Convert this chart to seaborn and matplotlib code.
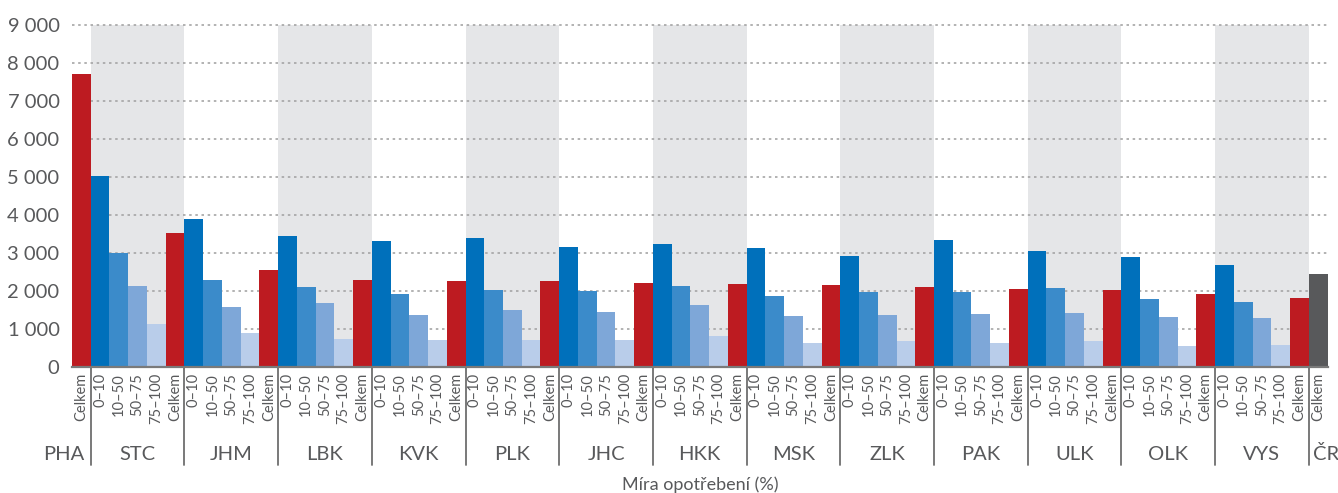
import matplotlib
matplotlib.use("Agg")
import matplotlib.pyplot as plt
import matplotlib.transforms as mtransforms
import seaborn as sns
import pandas as pd

# ---- data ----
regions = ["PHA", "STC", "JHM", "LBK", "KVK", "PLK", "JHC", "HKK", "MSK",
           "ZLK", "PAK", "ULK", "OLK", "VYS", "ČR"]
categories = ["0–10", "10–50", "50–75", "75–100", "Celkem"]

pha_total = 7710
cr_total = 2450
v_0_10 = [5030, 3900, 3450, 3320, 3400, 3160, 3240, 3140, 2930, 3350, 3060, 2900, 2690]
v_10_50 = [3000, 2300, 2110, 1930, 2030, 2000, 2140, 1870, 1990, 1990, 2090, 1800, 1720]
v_50_75 = [2140, 1590, 1690, 1380, 1510, 1450, 1640, 1350, 1380, 1400, 1430, 1320, 1300]
v_75_100 = [1140, 900, 740, 720, 720, 720, 820, 640, 690, 640, 690, 560, 590]
v_celkem = [3530, 2560, 2290, 2270, 2270, 2220, 2190, 2160, 2110, 2060, 2030, 1930, 1820]

y_ticks = [0, 1000, 2000, 3000, 4000, 5000, 6000, 7000, 8000, 9000]
y_tick_labels = ["0", "1 000", "2 000", "3 000", "4 000", "5 000",
                 "6 000", "7 000", "8 000", "9 000"]
x_title = "Míra opotřebení (%)"

cat_colors = {"0–10": "#0070bb", "10–50": "#3b8bca", "50–75": "#7ea7d8",
              "75–100": "#b9cdea", "Celkem": "#bd1b21"}
cr_color = "#58595b"
text_color = "#58595b"

# ---- build table ----
rows = []
rows.append(("PHA", "Celkem", pha_total, cat_colors["Celkem"]))
series = [v_0_10, v_10_50, v_50_75, v_75_100, v_celkem]
for i, reg in enumerate(regions[1:-1]):
    for c, s in zip(categories, series):
        rows.append((reg, c, s[i], cat_colors[c]))
rows.append(("ČR", "Celkem", cr_total, cr_color))
df = pd.DataFrame(rows, columns=["region", "cat", "value", "color"])
df["bar"] = [f"{r}|{c}" for r, c in zip(df["region"], df["cat"])]

# ---- figure ----
sns.set_theme(style="white")
plt.rcParams["font.family"] = ["Lato", "DejaVu Sans"]

fig = plt.figure(figsize=(13.38, 4.93), dpi=100)
W, H = 1338, 493
x0, x1 = 72, 1327.5
ytop, ybot = 25, 367.3
ax = fig.add_axes([x0 / W, 1 - ybot / H, (x1 - x0) / W, (ybot - ytop) / H])

sns.barplot(data=df, x="bar", y="value", hue="bar", palette=list(df["color"]),
            width=1.0, dodge=False, legend=False, ax=ax, saturation=1,
            order=list(df["bar"]), hue_order=list(df["bar"]), zorder=2,
            linewidth=0)

n = len(df)
ax.set_xlim(-0.5, n - 0.5)
ax.set_ylim(0, 9000)

# grey bands behind alternate regions
pos = 1
group_bounds = []
for i, reg in enumerate(regions[1:-1]):
    start, end = pos - 0.5, pos + 4.5
    group_bounds.append((start, end, reg))
    if i % 2 == 0:
        ax.axvspan(start, end, color="#e5e6e8", zorder=0.2, lw=0)
    pos += 5

# grid
for yv in y_ticks[1:]:
    ax.axhline(yv, color="#a5a5a5", lw=1.2, ls=(0, (1.5, 2.2)), zorder=0.5, clip_on=False)

ax.set_yticks(y_ticks)
ax.set_yticklabels(y_tick_labels, fontsize=14.5, color=text_color)
ax.tick_params(axis="y", length=0, pad=9)

ax.set_xticks(range(n))
ax.set_xticklabels(list(df["cat"]), rotation=90, fontsize=10.5, color=text_color,
                   va="top", ha="center")
ax.tick_params(axis="x", length=0, pad=4)
ax.set_xlabel("")
ax.set_ylabel("")

for side in ["left", "right", "top"]:
    ax.spines[side].set_visible(False)
ax.spines["bottom"].set_color("#7a7a7a")
ax.spines["bottom"].set_linewidth(1.6)
ax.spines["bottom"].set_zorder(3)

trans = mtransforms.blended_transform_factory(ax.transData, ax.transAxes)
sep_bottom = -(465 - ybot) / (ybot - ytop)
seps = [0.5] + [b[1] for b in group_bounds]
for s in seps:
    ax.plot([s, s], [0, sep_bottom], color="#6e6e6e", lw=1.3, transform=trans,
            clip_on=False, zorder=3)

label_y = -(454 - ybot) / (ybot - ytop)
ax.text(0.15, label_y, "PHA", transform=trans, ha="right", va="center",
        fontsize=14.5, color=text_color)
for start, end, reg in group_bounds:
    ax.text((start + end) / 2, label_y, reg, transform=trans, ha="center",
            va="center", fontsize=14.5, color=text_color)
ax.text(n - 1.3, label_y, "ČR", transform=trans, ha="left", va="center",
        fontsize=14.5, color=text_color, clip_on=False)

ax.text(0.5, -(485 - ybot) / (ybot - ytop), x_title, transform=ax.transAxes,
        ha="center", va="center", fontsize=13, color=text_color)

fig.savefig("out.png", dpi=100, facecolor="white")
